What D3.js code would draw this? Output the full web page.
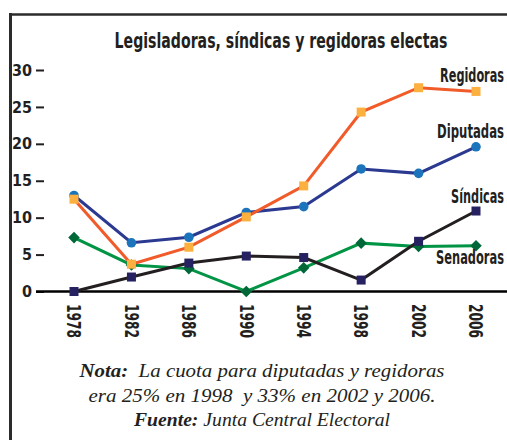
<!DOCTYPE html>
<html>
<head>
<meta charset="utf-8">
<script src="https://cdn.jsdelivr.net/npm/d3@7"></script>
<style>
  body { margin: 0; background: #fff; }
  .cond { font-family: "Liberation Sans Narrow", "DejaVu Sans Condensed", "Roboto", sans-serif; font-stretch: condensed; font-weight: bold; fill: #231f20; }
  .note { font-family: "Liberation Serif", "DejaVu Serif", serif; font-style: italic; fill: #231f20; }
</style>
</head>
<body>
<svg width="507" height="440"></svg>
<script>
// Data
const years = ["1978", "1982", "1986", "1990", "1994", "1998", "2002", "2006"];
const diputadas = [13.0, 6.6, 7.35, 10.7, 11.5, 16.6, 16.0, 19.6];
const regidoras = [12.5, 3.7, 6.0, 10.1, 14.3, 24.3, 27.6, 27.1];
const sindicas = [0, 1.96, 3.85, 4.8, 4.6, 1.55, 6.8, 10.9];
const senadoras = [7.3, 3.6, 3.1, 0, 3.2, 6.55, 6.1, 6.2];
const yTicks = [0, 5, 10, 15, 20, 25, 30];

const svg = d3.select("svg");

// squeeze a text horizontally around its anchor point to a given width
function fitWidth(sel, ax, ay, w) {
  const natural = sel.node().getComputedTextLength();
  const s = Math.min(1, w / natural);
  sel.attr("transform", `translate(${ax},${ay}) scale(${s},1) translate(${-ax},${-ay})`);
}

// Frame
svg.append("line").attr("x1", 10.5).attr("x2", 10.5).attr("y1", 13).attr("y2", 440)
  .attr("stroke", "#2b2b2b").attr("stroke-width", 3);
svg.append("line").attr("x1", 9).attr("x2", 507).attr("y1", 14.5).attr("y2", 14.5)
  .attr("stroke", "#2b2b2b").attr("stroke-width", 2.5);

// Title
const title = svg.append("text").attr("class", "cond")
  .attr("x", 281).attr("y", 48)
  .attr("text-anchor", "middle")
  .attr("font-size", 22)
  .text("Legisladoras, síndicas y regidoras electas");
fitWidth(title, 281, 48, 333);

const x = d3.scalePoint().domain(years).range([74, 476]);
const y = d3.scaleLinear().domain([0, 30]).range([291.5, 70]);

// Y axis
const yAxis = svg.append("g")
  .attr("transform", "translate(44,0)")
  .call(d3.axisLeft(y).tickValues(yTicks).tickSize(8).tickPadding(4));
yAxis.select(".domain").remove();
yAxis.selectAll("line").attr("stroke", "#231f20").attr("stroke-width", 2);
yAxis.selectAll("text").attr("class", "cond").attr("font-size", 16);

// Baseline
svg.append("line").attr("x1", 36).attr("x2", 507).attr("y1", y(0)).attr("y2", y(0))
  .attr("stroke", "#000").attr("stroke-width", 2.5);

// X axis labels (rotated)
const xAxis = svg.append("g")
  .attr("transform", "translate(0,304)")
  .call(d3.axisBottom(x).tickSize(0).tickPadding(0));
xAxis.select(".domain").remove();
xAxis.selectAll("text")
  .attr("class", "cond").attr("font-size", 20)
  .attr("text-anchor", "start")
  .attr("transform", "rotate(90)")
  .attr("x", 0).attr("y", 0).attr("dy", "0.36em")
  .attr("textLength", 34).attr("lengthAdjust", "spacingAndGlyphs");

const line = d3.line().x((d, i) => x(years[i])).y((d) => y(d));

const series = [
  { name: "Senadoras", values: senadoras, line: "#009444", marker: "#006838", shape: "diamond" },
  { name: "Diputadas", values: diputadas, line: "#2b3990", marker: "#1c75bc", shape: "circle" },
  { name: "Regidoras", values: regidoras, line: "#f15a29", marker: "#fbb040", shape: "square" },
  { name: "Síndicas", values: sindicas, line: "#231f20", marker: "#262262", shape: "square" }
];

series.forEach((s) => {
  const g = svg.append("g");
  g.append("path").datum(s.values)
    .attr("d", line)
    .attr("fill", "none")
    .attr("stroke", s.line)
    .attr("stroke-width", 3);
  if (s.shape === "circle") {
    g.selectAll("circle").data(s.values).enter().append("circle")
      .attr("cx", (d, i) => x(years[i])).attr("cy", (d) => y(d))
      .attr("r", 4.8).attr("fill", s.marker);
  } else if (s.shape === "square") {
    g.selectAll("rect").data(s.values).enter().append("rect")
      .attr("x", (d, i) => x(years[i]) - 4.5).attr("y", (d) => y(d) - 4.5)
      .attr("width", 9).attr("height", 9).attr("fill", s.marker);
  } else {
    g.selectAll("path.m").data(s.values).enter().append("path")
      .attr("class", "m")
      .attr("d", d3.symbol(d3.symbolDiamond2, 85))
      .attr("transform", (d, i) => `translate(${x(years[i])},${y(d)})`)
      .attr("fill", s.marker);
  }
});

// Series labels
const labels = [
  { text: "Regidoras", y: 82, w: 64 },
  { text: "Diputadas", y: 138, w: 67 },
  { text: "Síndicas", y: 203, w: 53 },
  { text: "Senadoras", y: 264, w: 68 }
];
labels.forEach((d) => {
  const t = svg.append("text")
    .attr("class", "cond")
    .attr("x", 504).attr("y", d.y)
    .attr("text-anchor", "end")
    .attr("font-size", 19)
    .text(d.text);
  fitWidth(t, 504, d.y, d.w);
});

// Note
const note = svg.append("g").attr("class", "note").attr("font-size", 18);
const l1 = note.append("text").attr("x", 262).attr("y", 377).attr("text-anchor", "middle")
  .attr("textLength", 365).attr("lengthAdjust", "spacingAndGlyphs");
l1.append("tspan").attr("font-weight", "bold").text("Nota:");
l1.append("tspan").text("\u00a0 La cuota para diputadas y regidoras");
note.append("text").attr("x", 262).attr("y", 402).attr("text-anchor", "middle")
  .attr("textLength", 347).attr("lengthAdjust", "spacingAndGlyphs")
  .text("era 25% en 1998 \u00a0y 33% en 2002 y 2006.");
const l3 = note.append("text").attr("x", 262).attr("y", 426).attr("text-anchor", "middle")
  .attr("textLength", 256).attr("lengthAdjust", "spacingAndGlyphs");
l3.append("tspan").attr("font-weight", "bold").text("Fuente:");
l3.append("tspan").text(" Junta Central Electoral");
</script>
</body>
</html>
